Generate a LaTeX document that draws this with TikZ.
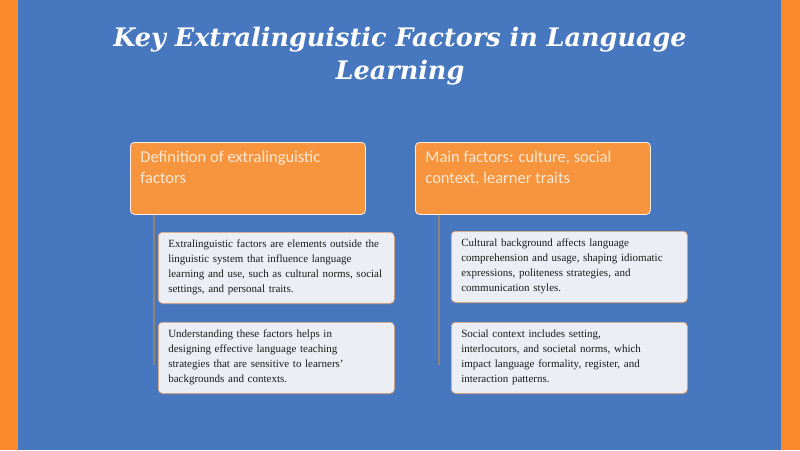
\documentclass[tikz,border=0pt]{standalone}
\usepackage{fontspec}
\setmainfont{Liberation Serif}
\newfontfamily\titlefont[BoldFeatures={FakeBold=4}]{DejaVu Serif}
\newfontfamily\headfont{Carlito}
\usetikzlibrary{positioning}
\usetikzlibrary{shadows}
\usetikzlibrary{backgrounds}
\definecolor{slideblue}{HTML}{4777BE}
\definecolor{barorange}{HTML}{F98B2E}
\definecolor{headorange}{HTML}{F7953F}
\definecolor{headtext}{HTML}{FDE8D4}
\definecolor{itemfill}{HTML}{EBEFF5}
\definecolor{itemedge}{HTML}{E9A26A}
\definecolor{branchgrey}{HTML}{8E8378}

\tikzset{
  headbox/.style={draw=white!85!headorange, line width=0.8pt, fill=headorange,
    rounded corners=4pt, anchor=north west, inner xsep=10pt, inner ysep=8pt,
    font=\headfont\fontsize{16.5}{21}\selectfont, text=headtext},
  itembox/.style={draw=itemedge, line width=0.6pt, fill=itemfill,
    rounded corners=4pt, anchor=north west, minimum width=236pt, minimum height=71pt,
    text width=216pt, inner xsep=10pt, align=left,
    font=\fontsize{11}{15}\selectfont, text=black!90,
    drop shadow={opacity=0.3, shadow xshift=1pt, shadow yshift=-1.5pt}},
  branch/.style={draw=branchgrey, line width=1.4pt, shorten >=-7pt}
}

\begin{document}
\begin{tikzpicture}[x=1pt,y=-1pt]
  \useasboundingbox (0,0) rectangle (800,450);

  % title
  \node[font=\titlefont\bfseries\itshape\fontsize{25.5}{33}\selectfont, text=white, align=center] (title) at (400,56)
    {Key Extralinguistic Factors in Language\\Learning};

  % left column
  \node[headbox] (defn) at (130,142) {\parbox[c][56pt][t]{215pt}{\vspace*{1pt}Definition of extralinguistic\\factors}};
  \node[itembox] (defn1) at (158,232) {Extralinguistic factors are elements outside the\\linguistic system that influence language\\learning and use, such as cultural norms, social\\settings, and personal traits.};
  \node[itembox] (defn2) at (158,322) {Understanding these factors helps in\\designing effective language teaching\\strategies that are sensitive to learners'\\backgrounds and contexts.};

  % right column
  \node[headbox] (main) at (415,142) {\parbox[c][56pt][t]{215pt}{\vspace*{1pt}Main factors: culture, social\\context, learner traits}};
  \node[itembox] (main1) at (451,231) {Cultural background affects language\\comprehension and usage, shaping idiomatic\\expressions, politeness strategies, and\\communication styles.};
  \node[itembox] (main2) at (451,322) {Social context includes setting,\\interlocutors, and societal norms, which\\impact language formality, register, and\\interaction patterns.};

  \begin{scope}[on background layer]
    \fill[slideblue] (0,0) rectangle (800,450);
    \fill[barorange] (0,0) rectangle (18,450);
    \fill[barorange] (781,0) rectangle (800,450);
    \draw[branch] ([xshift=24pt]defn.south west) -- ([xshift=24pt]defn.south west |- defn2.west);
    \draw[branch] ([xshift=24pt]main.south west) -- ([xshift=24pt]main.south west |- main2.west);
  \end{scope}
\end{tikzpicture}
\end{document}
